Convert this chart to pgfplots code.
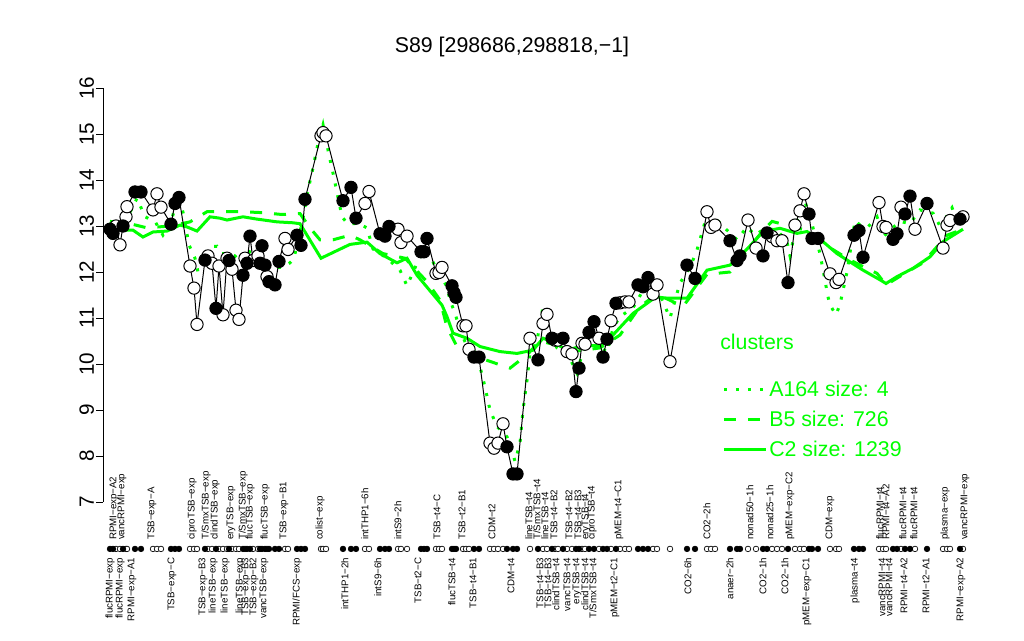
\documentclass[border=0pt]{standalone}
\usepackage{pgfplots}
\usepackage{pgfplotstable}
\pgfplotsset{compat=1.18}
\usepackage{fontspec}
\setmainfont{Liberation Sans}
\definecolor{rgreen}{RGB}{0,255,0}
\newcommand\lab{\fontsize{7.3}{9}\selectfont}
\newcommand\up[2]{\node[rotate=90,anchor=west,font=\lab,inner sep=0pt] at (axis cs:#1,6.17) {#2};}
\newcommand\dn[2]{\node[rotate=90,anchor=east,font=\lab,inner sep=0pt] at (axis cs:#1,5.79) {#2};}

\pgfplotstableread{
x y f
110 12.93 1
113 12.84 1
116 13.00 0
120 12.59 0
123 13.00 1
126 13.20 0
127 13.42 0
135 13.74 1
141 13.74 1
153 13.35 0
157 13.70 0
161 13.41 0
171 13.04 1
175 13.49 1
179 13.62 1
190 12.13 0
194 11.65 0
197 10.86 0
205 12.26 1
208 12.35 0
212 12.19 0
216 11.21 1
219 12.13 0
223 11.07 0
227 12.30 0
229 12.25 1
232 12.06 0
236 11.17 0
239 10.97 0
243 11.93 1
245 12.30 0
247 12.19 1
250 12.78 1
253 12.25 0
258 12.35 0
260 12.19 1
262 12.57 1
265 12.15 1
267 11.90 0
269 11.79 1
275 11.72 1
279 12.23 1
285 12.73 0
288 12.49 0
297 12.80 1
301 12.58 1
305 13.58 1
321 14.96 0
323 15.03 0
326 14.96 0
343 13.55 1
351 13.84 1
356 13.17 1
365 13.49 0
369 13.75 0
380 12.83 1
385 12.78 1
389 12.99 1
398 12.93 0
401 12.64 0
407 12.78 0
421 12.44 1
424 12.44 1
427 12.73 1
436 11.97 0
439 11.99 0
442 12.10 0
452 11.70 1
454 11.55 1
456 11.45 1
463 10.83 0
466 10.83 0
469 10.32 0
474 10.15 1
479 10.15 1
490 8.28 0
494 8.17 0
498 8.28 0
503 8.70 0
507 8.20 1
513 7.61 1
517 7.61 1
530 10.56 0
538 10.09 1
543 10.88 0
547 11.08 0
552 10.56 1
555 10.52 0
558 10.52 0
563 10.56 1
567 10.27 0
572 10.22 0
576 9.40 1
579 9.91 1
582 10.45 0
585 10.43 0
589 10.69 1
594 10.92 1
599 10.56 0
603 10.15 1
607 10.54 1
611 10.94 0
616 11.32 1
620 11.33 0
625 11.35 0
629 11.35 0
638 11.72 1
643 11.68 1
648 11.88 1
653 11.52 0
657 11.72 0
670 10.05 0
687 12.15 1
695 11.86 1
707 13.31 0
711 12.97 0
715 13.02 0
730 12.68 1
737 12.25 1
740 12.35 1
748 13.13 0
756 12.52 0
763 12.35 1
767 12.85 1
772 12.77 0
777 12.68 0
782 12.68 0
788 11.77 1
795 13.02 0
800 13.33 0
804 13.70 0
809 13.26 1
812 12.73 1
818 12.73 1
830 11.96 0
836 11.77 0
839 11.84 0
854 12.80 1
859 12.90 1
863 12.32 1
879 13.51 0
883 12.99 0
886 12.97 0
893 12.71 1
897 12.83 1
901 13.41 0
905 13.26 1
910 13.65 1
915 12.93 0
927 13.49 1
943 12.52 0
947 13.02 0
950 13.12 0
960 13.15 1
963 13.20 0
}\pts

\pgfplotstableread{
x y
110 12.96
123 12.91
133 12.91
143 12.76
153 12.87
167 12.89
180 13.02
187 12.98
197 12.89
210 13.20
220 13.17
227 13.13
243 13.20
257 13.15
277 13.09
293 13.07
300 13.05
321 12.30
350 12.60
367 12.65
380 12.40
397 12.20
407 12.30
417 11.93
432 11.54
442 11.28
447 11.03
453 10.67
467 10.56
480 10.38
500 10.27
517 10.23
533 10.30
543 10.56
553 10.48
567 10.30
583 10.40
600 10.40
613 10.63
633 11.10
656 11.46
667 11.43
687 11.43
707 12.04
730 12.15
748 12.52
763 12.88
780 12.95
797 12.84
807 12.88
823 12.66
837 12.40
850 12.22
863 12.04
880 11.83
886 11.75
897 11.90
913 12.08
930 12.33
943 12.66
963 12.93
}\cc

\pgfplotstableread{
x y
110 13.10
130 13.05
147 12.96
170 13.00
190 13.09
207 13.31
225 13.31
243 13.31
263 13.29
282 13.25
300 13.27
310 12.96
320 12.70
333 12.70
350 12.80
360 12.70
383 12.40
405 12.30
427 11.79
440 11.39
447 10.80
457 10.38
473 10.30
480 10.13
510 9.91
527 10.20
540 10.50
553 10.43
573 10.27
600 10.35
620 10.63
640 11.25
657 11.52
683 11.25
707 11.95
730 12.00
763 12.90
772 13.10
790 13.00
807 12.90
823 12.62
850 12.26
877 11.97
886 11.72
907 12.00
923 12.20
947 12.80
963 12.93
}\bb

\pgfplotstableread{
x y
110 13.05
120 13.10
130 13.30
137 13.60
145 13.20
155 13.10
163 12.80
170 13.00
178 13.65
183 13.30
189 12.59
195 12.30
198 12.00
205 12.40
210 12.55
217 12.56
222 12.40
228 12.40
235 12.35
242 12.20
248 12.45
256 12.40
263 12.30
270 12.10
282 12.10
290 12.20
294 12.30
303 13.17
308 13.78
313 14.26
318 14.80
323 15.20
328 14.65
333 14.15
342 13.20
348 13.04
358 13.06
367 12.96
373 12.50
387 12.30
400 12.04
407 11.70
423 12.48
432 12.26
437 12.04
447 11.68
450 11.39
455 11.10
460 10.74
467 10.38
473 10.30
480 9.94
485 9.50
490 9.00
497 8.64
507 8.42
512 8.13
515 7.88
520 8.28
523 9.00
527 9.65
530 10.23
537 10.50
543 11.25
548 10.70
557 10.35
567 10.25
577 9.80
583 10.30
592 10.78
600 10.40
607 10.25
613 10.78
620 11.03
633 11.22
647 11.75
660 11.50
670 11.00
680 11.76
690 12.10
697 12.48
707 13.24
717 13.13
727 12.91
737 12.70
747 12.98
755 12.80
765 12.95
777 12.91
787 12.66
790 12.35
798 13.22
805 13.53
810 13.20
820 12.40
828 11.46
830 11.28
836 11.07
840 11.30
842 11.50
847 12.00
855 13.12
860 13.02
868 12.98
877 13.20
883 12.76
892 12.95
900 13.10
910 13.05
920 13.35
933 13.28
943 12.88
947 13.25
952 13.40
957 13.10
963 13.25
}\aa

\begin{document}
\begin{tikzpicture}[x=1pt,y=1pt]
\useasboundingbox (0,0) rectangle (768,480);
\node[font=\fontsize{16}{19}\selectfont] at (384,444.75) {S89 [298686,298818,−1]};
\begin{axis}[
  at={(77.25pt,103.5pt)}, anchor=south west,
  scale only axis, width=657.75pt, height=310.5pt,
  xmin=103, xmax=980, ymin=7, ymax=16,
  clip=false,
  axis x line=none,
  axis y line*=left,
  y axis line style={line width=0.75pt,-},
  ytick={7,8,...,16},
  tick align=outside,
  major tick length=5.25pt,
  ytick style={line width=0.75pt,black},
  yticklabel style={font=\fontsize{15.5}{18}\selectfont, rotate=90, anchor=south},
  yticklabel shift=-2pt,
  /pgf/number format/assume math mode=true,
  legend style={at={(axis cs:718,9.72)}, anchor=north west, draw=none, fill=none,
    font=\fontsize{16}{19}\selectfont, text=rgreen, row sep=7.2pt,
    nodes={inner sep=1pt}},
  legend cell align=left,
  legend image code/.code={\draw[#1] (0pt,0pt) -- (32pt,0pt);},
]
\addplot[rgreen, line width=2.25pt, line cap=butt, dash pattern=on 2.25pt off 6.75pt] table[x=x,y=y] {\aa};
\addlegendentry{A164 size: 4}
\addplot[rgreen, line width=2.25pt, line cap=butt, dash pattern=on 9pt off 9pt] table[x=x,y=y] {\bb};
\addlegendentry{B5 size: 726}
\addplot[rgreen, line width=2.25pt] table[x=x,y=y] {\cc};
\addlegendentry{C2 size: 1239}

\addplot[black, line width=0.75pt, forget plot] table[x=x,y=y] {\pts};
\addplot[only marks, mark=*, mark size=4.6pt, mark options={fill=white, draw=black, line width=0.75pt}, forget plot,
  restrict expr to domain={\thisrow{f}}{0:0}] table[x=x,y=y] {\pts};
\addplot[only marks, mark=*, mark size=4.6pt, mark options={fill=black, draw=black, line width=0.75pt}, forget plot,
  restrict expr to domain={\thisrow{f}}{1:1}] table[x=x,y=y] {\pts};
\addplot[only marks, mark=*, mark size=2.1pt, mark options={fill=white, draw=black, line width=0.5pt}, forget plot,
  restrict expr to domain={\thisrow{f}}{0:0}] table[x=x,y expr=5.98] {\pts};
\addplot[only marks, mark=*, mark size=2.1pt, mark options={fill=black, draw=black, line width=0.5pt}, forget plot,
  restrict expr to domain={\thisrow{f}}{1:1}] table[x=x,y expr=5.98] {\pts};

\node[anchor=west, text=rgreen, font=\fontsize{16}{19}\selectfont, inner sep=0pt] at (axis cs:720,10.48) {clusters};

\up{114}{RPMI−exp−A2}
\up{122}{vancRPMI−exp}
\up{152}{TSB−exp−A}
\up{192}{ciproTSB−exp}
\up{206}{T/SmxTSB−exp}
\up{215}{clindTSB−exp}
\up{231}{eryTSB−exp}
\up{243}{T/SmxTSB−exp}
\up{250}{flucTSB−exp}
\up{265}{flucTSB−exp}
\up{284}{TSB−exp−B1}
\up{320}{colist−exp}
\up{365}{intTHP1−6h}
\up{398}{intS9−2h}
\up{437}{TSB−t4−C}
\up{462}{TSB−t2−B1}
\up{492}{CDM−t2}
\up{529}{lineTSB−t4}
\up{537}{T/SmxTSB−t4}
\up{545}{lineTSB−t4}
\up{554}{TSB−t4−B2}
\up{569}{TSB−t4−B2}
\up{578}{TSB−t4−B3}
\up{586}{eryTSB−t4}
\up{592}{ciproTSB−t4}
\up{619}{pMEM−t4−C1}
\up{707}{CO2−2h}
\up{750}{nonad50−1h}
\up{770}{nonad25−1h}
\up{790}{pMEM−exp−C2}
\up{830}{CDM−exp}
\up{880}{flucRPMI−t4}
\up{886}{RPMI−t4−A2}
\up{903}{flucRPMI−t4}
\up{914}{flucRPMI−t4}
\up{945}{plasma−exp}
\up{965}{vancRPMI−exp}

\dn{110}{flucRPMI−exp}
\dn{120}{flucRPMI−exp}
\dn{132}{RPMI−exp−A1}
\dn{172}{TSB−exp−C}
\dn{203}{TSB−exp−B3}
\dn{213}{lineTSB−exp}
\dn{225}{lineTSB−exp}
\dn{240}{lineTSB−exp}
\dn{246}{TSB−exp−B3}
\dn{254}{TSB−exp−B2}
\dn{264}{vancTSB−exp}
\dn{297}{RPMI/FCS−exp}
\dn{345}{intTHP1−2h}
\dn{378}{intS9−6h}
\dn{418}{TSB−t2−C}
\dn{452}{flucTSB−t4}
\dn{473}{TSB−t4−B1}
\dn{511}{CDM−t4}
\dn{540}{TSB−t4−B3}
\dn{548}{TSB−t4−B3}
\dn{556}{clindTSB−t4}
\dn{567}{vancTSB−t4}
\dn{577}{eryTSB−t4}
\dn{585}{clindTSB−t4}
\dn{593}{T/SmxTSB−t4}
\dn{615}{pMEM−t2−C1}
\dn{688}{CO2−6h}
\dn{730}{anaer−2h}
\dn{763}{CO2−1h}
\dn{785}{CO2−1h}
\dn{807}{pMEM−exp−C1}
\dn{855}{plasma−t4}
\dn{882}{vancRPMI−t4}
\dn{889}{vancRPMI−t4}
\dn{904}{RPMI−t4−A2}
\dn{926}{RPMI−t2−A1}
\dn{961}{RPMI−exp−A2}
\end{axis}
\end{tikzpicture}
\end{document}
